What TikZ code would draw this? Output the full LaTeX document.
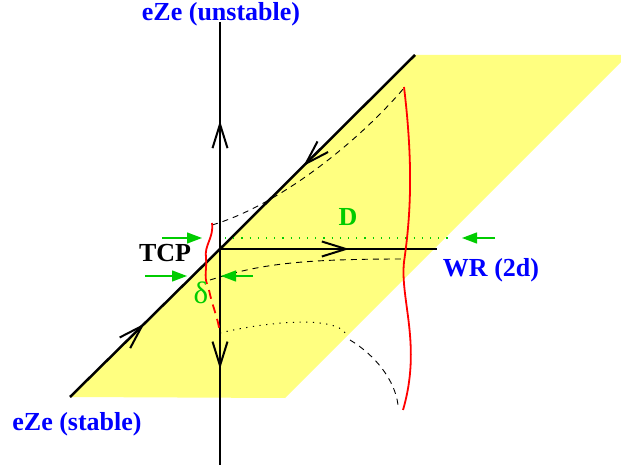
\documentclass[tikz,border=0pt]{standalone}
\usepackage{fontspec}
\setmainfont{Liberation Serif}
\usetikzlibrary{arrows.meta, decorations.markings}
\definecolor{sheet}{RGB}{255,255,128}
\definecolor{gapgreen}{RGB}{0,204,0}

\begin{document}
\begin{tikzpicture}[x=1pt, y=-1pt,
    manifold/.style={line width=2.5pt},
    barb/.style={postaction={decorate, decoration={markings,
        mark=at position #1 with {\draw[line width=2pt] (-24pt,7.5pt) -- (0pt,0pt) -- (-24pt,-7.5pt);}}}},
    orbit/.style={line width=0.9pt, dash pattern=on 6pt off 5pt},
    section/.style={red, line width=1.8pt},
    gap/.style={gapgreen, line width=1.3pt, -{Triangle[length=15pt, width=11pt]}},
    lab/.style={font=\fontsize{26}{30}\selectfont\bfseries, inner sep=0pt}]
        \useasboundingbox (0,0) rectangle (621,470);
        \fill[sheet] (70,397) -- (415,55) -- (621,55) -- (621,62) -- (285,398) -- cycle;

        \coordinate (tcp) at (220,249);
        \coordinate (top) at (220,22);
        \coordinate (bot) at (220,465);
        \coordinate (sin) at (70,397);
        \coordinate (sout) at (415,55);
        \coordinate (wr) at (437,249);

        \draw[manifold, barb=0.55] (tcp) -- (top);
        \draw[manifold, barb=0.54] (tcp) -- (bot);
        \draw[manifold, barb=0.56] (sout) -- (tcp);
        \draw[manifold, barb=0.48] (sin) -- (tcp);
        \draw[manifold, barb=0.58] (tcp) -- (wr);

        \draw[gapgreen, line width=1.2pt, dash pattern=on 1.2pt off 7pt] (225,238) -- (452,238);

        \draw[orbit] (212,225) .. controls (280,205) and (360,140) .. (404,88);
        \draw[orbit] (210,280) .. controls (260,264) and (300,259) .. (405,259);
        \draw[line width=1pt, dash pattern=on 1.2pt off 5.5pt] (220,333) .. controls (265,322) and (335,315) .. (346,334);
        \draw[orbit] (350,340) .. controls (375,355) and (395,380) .. (398,405);

        \draw[section] (212,223) .. controls (214,238) and (204,245) .. (206,258) .. controls (207,268) and (204,276) .. (207,284);
        \draw[section, dash pattern=on 9pt off 6pt] (209,290) .. controls (212,305) and (218,318) .. (220,333);
        \draw[section] (404,87) .. controls (414,170) and (410,220) .. (404,262) .. controls (400,300) and (422,345) .. (403,410);

        \draw[gap] (162,238) -- (202,238);
        \draw[gap] (145,276) -- (187,276);
        \draw[gap] (253,276) -- (221,276);
        \draw[gap] (495,238) -- (462,238);

        \node[lab, blue] (unst) at (221,14) {eZe (unstable)};
        \node[lab, blue] (st) at (77,424) {eZe (stable)};
        \node[lab, blue] (wrlab) at (491,270) {WR (2d)};
        \node[lab] (tcplab) at (165,253) {TCP};
        \node[lab, gapgreen] (dlab) at (348,217) {D};
        \node[lab, gapgreen, font=\fontsize{31}{34}\selectfont] (delta) at (201,293) {δ};
\end{tikzpicture}
\end{document}
